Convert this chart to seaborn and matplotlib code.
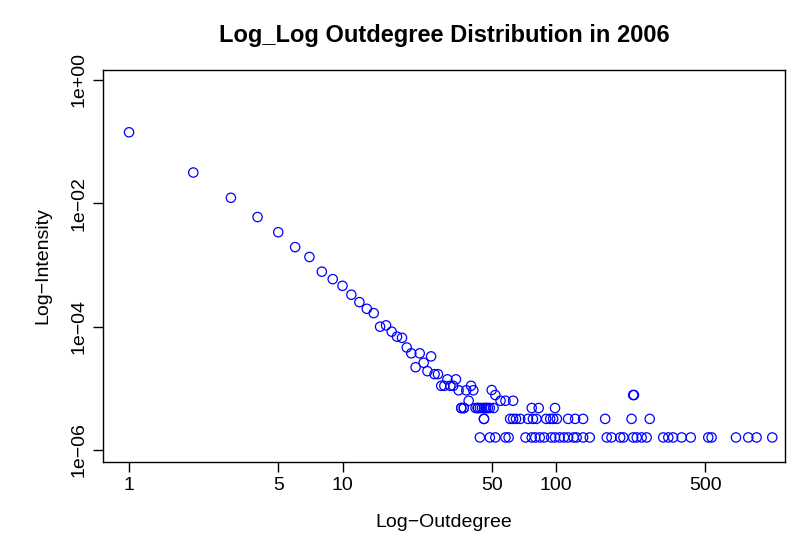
import seaborn as sns
import matplotlib.pyplot as plt
import pandas as pd
from matplotlib.ticker import FixedLocator, NullLocator

# degree / intensity pairs
deg_head = [1, 2, 3, 4, 5, 6, 7, 8, 9, 10, 11, 12, 13, 14, 15, 16, 17, 18, 19, 20,
            21, 22, 23, 24, 25, 26, 27, 28, 29, 30, 31, 32, 33, 34, 35, 36, 37, 38,
            39, 40, 41, 42, 43, 45, 46, 47, 48, 50, 52, 55, 58, 63, 230, 232]
int_head = [0.142, 0.0316, 0.0123, 0.006, 0.0034, 0.00195, 0.00135, 7.8e-4, 5.9e-4,
            4.6e-4, 3.3e-4, 2.5e-4, 1.95e-4, 1.66e-4, 1.0e-4, 1.05e-4, 8.3e-5, 6.9e-5,
            6.6e-5, 4.6e-5, 3.7e-5, 2.2e-5, 3.7e-5, 2.6e-5, 1.9e-5, 3.3e-5, 1.7e-5,
            1.7e-5, 1.1e-5, 1.1e-5, 1.4e-5, 1.1e-5, 1.1e-5, 1.4e-5, 9.3e-6, 4.8e-6,
            4.8e-6, 9.3e-6, 6.3e-6, 1.1e-5, 9.3e-6, 4.8e-6, 4.8e-6, 4.8e-6, 3.2e-6,
            4.8e-6, 4.8e-6, 9.4e-6, 7.8e-6, 6.3e-6, 6.3e-6, 6.3e-6, 7.8e-6, 7.8e-6]

deg_one = [44, 49, 52, 58, 60, 72, 77, 80, 84, 88, 95, 99, 104, 109, 114, 121, 125,
           134, 144, 173, 182, 200, 207, 230, 239, 252, 266, 318, 336, 354, 388, 428,
           517, 536, 697, 796, 871, 1031]
deg_two = [46, 61, 63, 65, 68, 74, 78, 81, 90, 94, 97, 101, 114, 123, 134, 170, 226, 275]
deg_three = [36, 37, 43, 44, 46, 47, 49, 51, 77, 83, 99]

unit = 1.6e-6
degree = deg_head + deg_one + deg_two + deg_three
intensity = (int_head + [unit] * len(deg_one) + [2 * unit] * len(deg_two)
             + [3 * unit] * len(deg_three))
df = pd.DataFrame({"degree": degree, "intensity": intensity})

sns.set_style("white")
plt.rcParams["font.family"] = ["Liberation Sans", "DejaVu Sans"]
plt.rcParams["text.color"] = "black"
plt.rcParams["axes.labelcolor"] = "black"
plt.rcParams["xtick.color"] = "black"
plt.rcParams["ytick.color"] = "black"

fig = plt.figure(figsize=(7.87, 5.46), dpi=100)
ax = fig.add_axes([103 / 787, 84 / 546, 682 / 787, 392 / 546])
sns.scatterplot(data=df, x="degree", y="intensity", ax=ax, marker="o", s=45,
                facecolors="none", edgecolor="blue", linewidth=0.9)
ax.set_xscale("log")
ax.set_yscale("log")
ax.set_xlim(10 ** -0.122, 10 ** 3.073)
ax.set_ylim(10 ** -6.194, 10 ** 0.162)

ax.xaxis.set_major_locator(FixedLocator([1, 5, 10, 50, 100, 500]))
ax.xaxis.set_minor_locator(NullLocator())
ax.set_xticklabels(["1", "5", "10", "50", "100", "500"])
ax.yaxis.set_major_locator(FixedLocator([1, 1e-2, 1e-4, 1e-6]))
ax.yaxis.set_minor_locator(NullLocator())
ax.set_yticklabels(["1e+00", "1e\u221202", "1e\u221204", "1e\u221206"],
                   rotation=90, va="center")
ax.tick_params(axis="both", direction="out", length=7, width=1, labelsize=14,
               left=True, bottom=True, color="black", labelcolor="black", pad=4)
for sp in ax.spines.values():
    sp.set_color("black")
    sp.set_linewidth(1)

ax.set_xlabel("Log\u2212Outdegree", fontsize=14, labelpad=14, color="black")
ax.set_ylabel("Log\u2212Intensity", fontsize=14, labelpad=14, color="black")
ax.set_title("Log_Log Outdegree Distribution in 2006", fontsize=17,
             fontweight="bold", pad=20, color="black")

fig.savefig("out.png", dpi=100)
